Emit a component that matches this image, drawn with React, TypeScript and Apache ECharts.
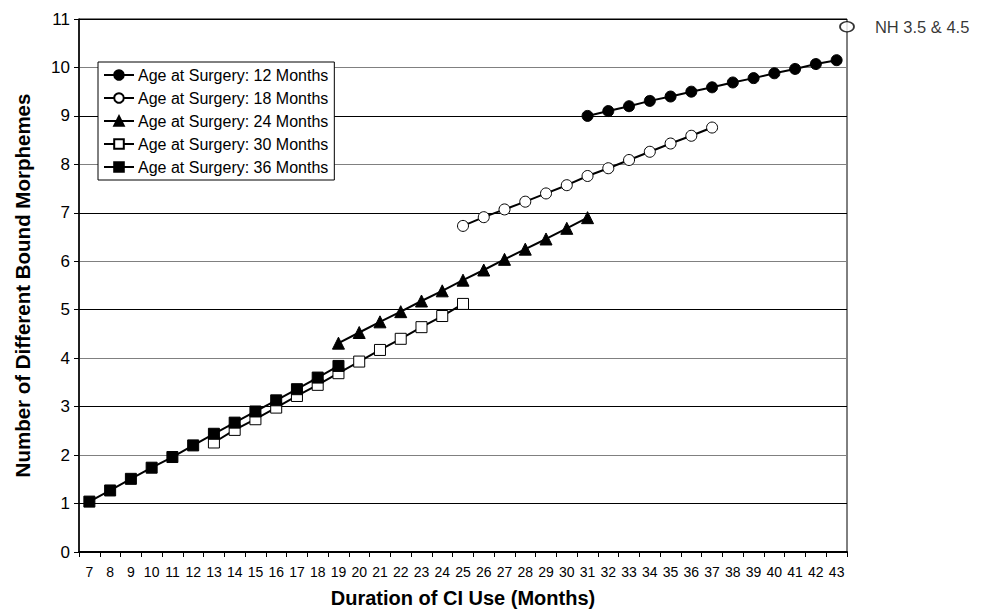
import React, { useEffect, useRef } from "react";
import * as echarts from "echarts";

const months: string[] = [
  "7","8","9","10","11","12","13","14","15","16","17","18","19","20","21","22","23","24","25",
  "26","27","28","29","30","31","32","33","34","35","36","37","38","39","40","41","42","43",
];

const age12Start = "31";
const age12: number[] = [9.0, 9.1, 9.2, 9.31, 9.4, 9.5, 9.59, 9.69, 9.78, 9.88, 9.97, 10.07, 10.15];
const age18Start = "25";
const age18: number[] = [6.73, 6.91, 7.07, 7.23, 7.4, 7.57, 7.76, 7.92, 8.09, 8.26, 8.43, 8.59, 8.76];
const age24Start = "19";
const age24: number[] = [4.31, 4.53, 4.75, 4.96, 5.18, 5.39, 5.61, 5.82, 6.04, 6.25, 6.46, 6.68, 6.9];
const age30Start = "13";
const age30: number[] = [2.26, 2.52, 2.74, 2.98, 3.22, 3.45, 3.69, 3.93, 4.17, 4.4, 4.64, 4.87, 5.12];
const age36Start = "7";
const age36: number[] = [1.04, 1.27, 1.51, 1.74, 1.96, 2.2, 2.44, 2.67, 2.9, 3.13, 3.36, 3.6, 3.84];

const nhLabel = "NH 3.5 & 4.5";
const nhValue = 10.84;

const yTicks = { min: 0, max: 11, interval: 1 };

function pad(start: string, vals: number[]): (number | null)[] {
  const s = months.indexOf(start);
  return months.map((_, i) => (i >= s && i < s + vals.length ? vals[i - s] : null));
}

export default function App() {
  const ref = useRef<HTMLDivElement>(null);
  useEffect(() => {
    if (!ref.current) return;
    const chart = echarts.init(ref.current, null, { renderer: "svg" });
    const font = "Liberation Sans, Arial, sans-serif";
    const mk = (
      name: string,
      data: (number | null)[],
      symbol: string,
      size: number,
      open: boolean
    ) => ({
      name,
      type: "line",
      data,
      symbol,
      symbolSize: size,
      showAllSymbol: true,
      lineStyle: { color: "#000", width: 2 },
      itemStyle: {
        color: open ? "#fff" : "#000",
        borderColor: "#000",
        borderWidth: 1,
      },
      emphasis: { disabled: true },
    });
    chart.setOption({
      animation: false,
      textStyle: { fontFamily: font },
      grid: {
        left: 79,
        right: 153,
        top: 19,
        bottom: 62,
        show: true,
        borderColor: "#000",
        borderWidth: 1,
      },
      legend: {
        data: [
          "Age at Surgery: 12 Months",
          "Age at Surgery: 18 Months",
          "Age at Surgery: 24 Months",
          "Age at Surgery: 30 Months",
          "Age at Surgery: 36 Months",
        ],
        orient: "vertical",
        left: 98,
        top: 62,
        backgroundColor: "#fff",
        borderColor: "#000",
        borderWidth: 1,
        padding: [5, 6, 5, 5],
        itemWidth: 30,
        itemHeight: 12,
        itemGap: 7,
        textStyle: { fontSize: 16, color: "#000", fontFamily: font, padding: [0, 0, 0, -1] },
      },
      xAxis: [
        {
          type: "category",
          data: months,
          boundaryGap: true,
          name: "Duration of CI Use (Months)",
          nameLocation: "middle",
          nameGap: 36,
          nameTextStyle: { fontSize: 20, fontWeight: "bold", color: "#000", fontFamily: font },
          axisLine: { lineStyle: { color: "#000", width: 2 } },
          axisTick: { show: true, length: 5, lineStyle: { color: "#000" }, interval: 0 },
          axisLabel: { interval: 0, fontSize: 14, color: "#000", margin: 13, fontFamily: font },
          splitLine: { show: false },
        },
        {
          type: "value",
          min: 6.5,
          max: 43.5,
          show: false,
        },
      ],
      yAxis: {
        type: "value",
        min: yTicks.min,
        max: yTicks.max,
        interval: yTicks.interval,
        name: "Number of Different Bound Morphemes",
        nameLocation: "middle",
        nameGap: 46,
        nameTextStyle: { fontSize: 20.5, fontWeight: "bold", color: "#000", fontFamily: font },
        axisLine: { show: true, lineStyle: { color: "#000", width: 1.5 } },
        axisTick: { show: true, length: 5, lineStyle: { color: "#000" } },
        axisLabel: { fontSize: 17, color: "#000", margin: 9, fontFamily: font },
        splitLine: { show: true, lineStyle: { color: ["#808080", "#000"], width: 1 } },
      },
      series: [
        mk("Age at Surgery: 12 Months", pad(age12Start, age12), "circle", 11, false),
        mk("Age at Surgery: 18 Months", pad(age18Start, age18), "circle", 11, true),
        mk("Age at Surgery: 24 Months", pad(age24Start, age24), "triangle", 12, false),
        mk("Age at Surgery: 30 Months", pad(age30Start, age30), "rect", 11, true),
        mk("Age at Surgery: 36 Months", pad(age36Start, age36), "rect", 11, false),
        {
          name: "NH",
          type: "scatter",
          xAxisIndex: 1,
          data: [[43.5, nhValue]],
          symbol: "circle",
          symbolSize: [14, 10],
          clip: false,
          itemStyle: { color: "#fff", borderColor: "#000", borderWidth: 1.5 },
          label: {
            show: true,
            position: "right",
            distance: 20,
            formatter: nhLabel,
            fontSize: 16.5,
            color: "#000",
            fontFamily: font,
          },
          emphasis: { disabled: true },
        },
      ],
    });
    return () => chart.dispose();
  }, []);
  return (
    <div
      ref={ref}
      style={{ position: "absolute", left: 0, top: 0, width: 1000, height: 614 }}
    />
  );
}
